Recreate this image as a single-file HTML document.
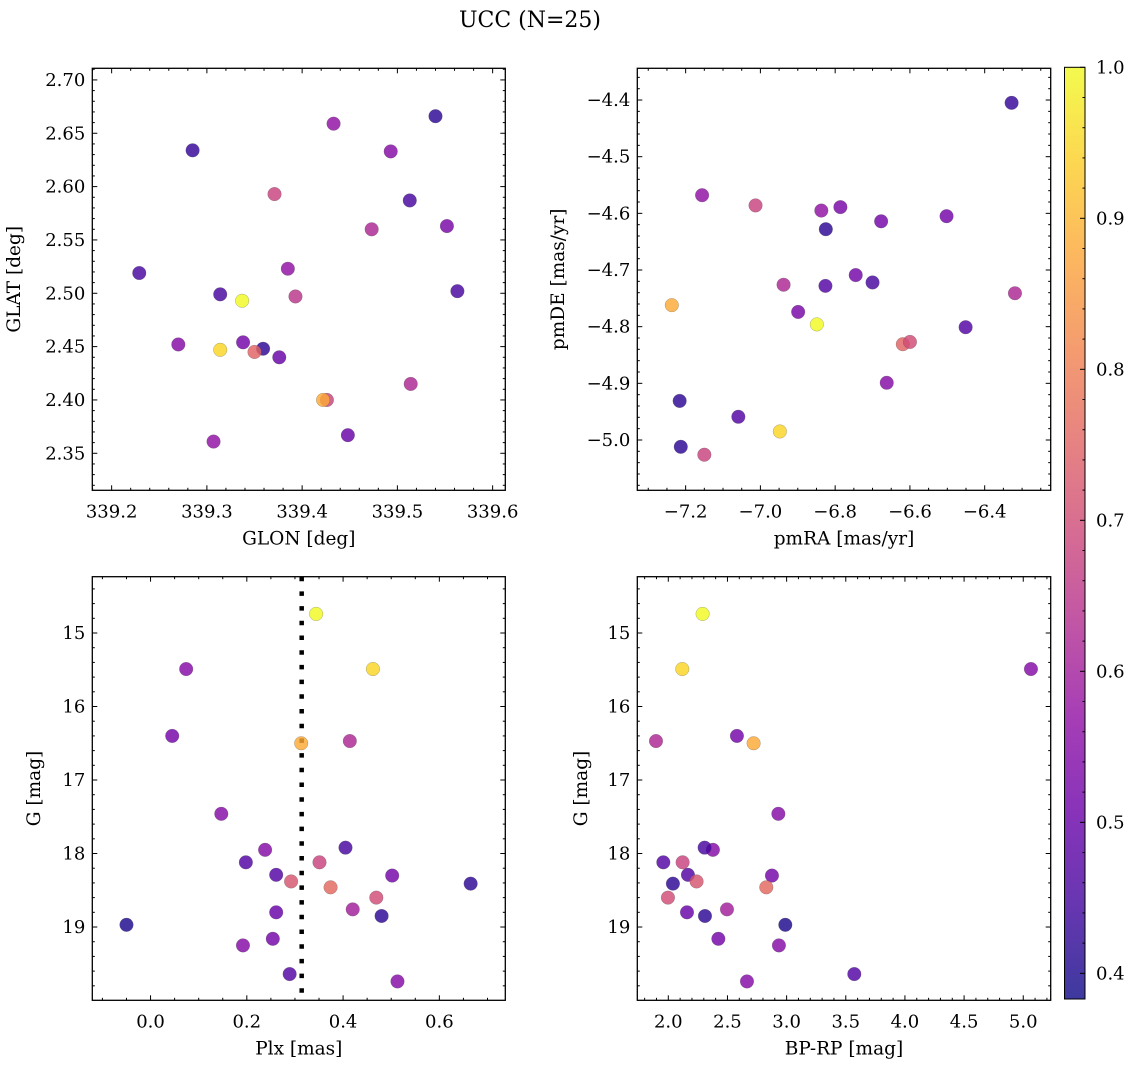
<!DOCTYPE html>
<html><head><meta charset="utf-8"><title>UCC (N=25)</title>
<style>
html,body{margin:0;padding:0;background:#fff;}
svg{display:block;font-family:"DejaVu Serif","Liberation Serif",serif;}
</style></head>
<body>
<svg id="fig" xmlns="http://www.w3.org/2000/svg" width="1136" height="1067" viewBox="0 0 1136 1067">
<defs>
<linearGradient id="cbgrad" x1="0" y1="1" x2="0" y2="0">
<stop offset="0" stop-color="#0d0887"/><stop offset="0.1" stop-color="#41049d"/><stop offset="0.2" stop-color="#6a00a8"/><stop offset="0.3" stop-color="#8f0da4"/><stop offset="0.4" stop-color="#b12a90"/><stop offset="0.5" stop-color="#cc4778"/><stop offset="0.6" stop-color="#e16462"/><stop offset="0.7" stop-color="#f2844b"/><stop offset="0.8" stop-color="#fca636"/><stop offset="0.9" stop-color="#fcce25"/><stop offset="1" stop-color="#f0f921"/>
</linearGradient>
</defs>
<text x="530" y="27" font-size="22" text-anchor="middle">UCC (N=25)</text>
</svg>
<script>
// ---- Panel 1: galactic coordinates ----
const glon = [339.285,339.229,339.433,339.540,339.493,339.371,339.513,339.473,339.552,339.385,339.314,339.337,339.393,339.563,339.270,339.338,339.359,339.350,339.314,339.376,339.514,339.426,339.422,339.448,339.307];
const glat = [2.634,2.519,2.659,2.666,2.633,2.593,2.587,2.560,2.563,2.523,2.499,2.493,2.497,2.502,2.452,2.454,2.448,2.445,2.447,2.440,2.415,2.400,2.400,2.367,2.361];
const probPos = [0.43,0.45,0.57,0.42,0.55,0.68,0.45,0.62,0.53,0.57,0.45,1.0,0.65,0.45,0.55,0.52,0.42,0.75,0.95,0.50,0.62,0.68,0.88,0.50,0.57];
// ---- Panel 2: proper motions ----
const pmra = [-6.328,-7.156,-7.013,-6.837,-6.786,-6.825,-6.677,-6.502,-6.745,-6.700,-6.826,-6.938,-6.899,-7.237,-6.849,-6.451,-6.319,-6.619,-6.600,-6.662,-7.216,-7.059,-6.948,-7.213,-7.150];
const pmde = [-4.405,-4.568,-4.586,-4.595,-4.589,-4.628,-4.614,-4.605,-4.709,-4.722,-4.728,-4.726,-4.774,-4.762,-4.796,-4.801,-4.741,-4.831,-4.827,-4.899,-4.931,-4.959,-4.985,-5.012,-5.026];
const probPm = [0.43,0.57,0.68,0.57,0.53,0.42,0.52,0.52,0.52,0.45,0.47,0.62,0.53,0.88,1.0,0.47,0.62,0.75,0.70,0.55,0.42,0.47,0.95,0.42,0.68];
// ---- Panels 3 & 4: photometry / parallax ----
const gmag = [14.74,15.49,15.49,16.40,16.50,16.47,17.46,17.95,17.92,18.12,18.12,18.29,18.38,18.30,18.41,18.46,18.60,18.76,18.80,18.85,18.97,19.16,19.25,19.64,19.74];
const plx = [0.344,0.074,0.462,0.045,0.313,0.414,0.147,0.238,0.405,0.198,0.351,0.261,0.292,0.502,0.665,0.374,0.469,0.420,0.261,0.480,-0.050,0.254,0.192,0.289,0.513];
const bprp = [2.290,5.065,2.118,2.580,2.721,1.896,2.930,2.377,2.307,1.958,2.121,2.166,2.239,2.876,2.039,2.828,1.997,2.496,2.158,2.310,2.989,2.423,2.935,3.572,2.665];
const probPhot = [1.0,0.55,0.95,0.52,0.88,0.62,0.55,0.55,0.45,0.47,0.68,0.47,0.72,0.52,0.42,0.76,0.70,0.60,0.50,0.42,0.40,0.52,0.55,0.47,0.55];
const plxMedian = [0.314];
const cbTicks = [0.4,0.5,0.6,0.7,0.8,0.9,1.0];
const cbMin = 0.383, cbMax = 1.0;

const NS = "http://www.w3.org/2000/svg";
const svg = document.getElementById('fig');
const plasma = [[13,8,135],[65,4,157],[106,0,168],[143,13,164],[177,42,144],[204,71,120],[225,100,98],[242,132,75],[252,166,54],[252,206,37],[240,249,33]];
function cmap(v){
  let t = (v-cbMin)/(cbMax-cbMin); t = Math.max(0,Math.min(1,t))*10;
  const i = Math.min(9,Math.floor(t)), f = t-i;
  const a = plasma[i], b = plasma[i+1];
  return 'rgb('+a.map((c,k)=>Math.round(c+(b[k]-c)*f)).join(',')+')';
}
function el(tag, attrs, parent){
  const e = document.createElementNS(NS, tag);
  for (const k in attrs) e.setAttribute(k, attrs[k]);
  (parent||svg).appendChild(e);
  return e;
}
function fmt(v, d){ return v.toFixed(d).replace('-', '\u2212'); }

function panel(o){
  const g = el('g', {});
  
  
  const L=o.L,R=o.R,T=o.T,B=o.B;
  const sx = v => L + (v-o.xmin)/(o.xmax-o.xmin)*(R-L);
  const sy = o.invert ? (v => T + (v-o.ymin)/(o.ymax-o.ymin)*(B-T)) : (v => B - (v-o.ymin)/(o.ymax-o.ymin)*(B-T));
  const tg = el('g', {stroke:'#000','stroke-width':1}, g);
  for (let v=Math.ceil(o.xmin/o.xminor-1e-6)*o.xminor; v<=o.xmax+1e-9; v+=o.xminor){
    const x = sx(v); const maj = Math.abs(v/o.xmajor - Math.round(v/o.xmajor))<1e-4; const len = maj?5:2.5;
    el('line',{x1:x,x2:x,y1:B,y2:B-len},tg); el('line',{x1:x,x2:x,y1:T,y2:T+len},tg);
  }
  for (let v=Math.ceil(o.ymin/o.yminor-1e-6)*o.yminor; v<=o.ymax+1e-9; v+=o.yminor){
    const y = sy(v); const maj = Math.abs(v/o.ymajor - Math.round(v/o.ymajor))<1e-4; const len = maj?5:2.5;
    el('line',{y1:y,y2:y,x1:L,x2:L+len},tg); el('line',{y1:y,y2:y,x1:R,x2:R-len},tg);
  }
  o.xticks.forEach(v=>{
    const t = el('text',{x:sx(v),y:B+27,'font-size':18,'text-anchor':'middle'},g);
    
    
    t.textContent = fmt(v,o.xdec);
  });
  o.yticks.forEach(v=>{
    const t = el('text',{x:L-7,y:sy(v)+6,'font-size':18,'text-anchor':'end'},g);
    
    
    t.textContent = fmt(v,o.ydec);
  });
  const xl = el('text',{x:(L+R)/2,y:B+54,'font-size':18.5,'text-anchor':'middle'},g);
  
  
  xl.textContent = o.xlabel;
  const yl = el('text',{x:0,y:0,'font-size':18.5,'text-anchor':'middle',transform:'translate('+o.ylx+','+(T+B)/2+') rotate(-90)'},g);
  
  
  yl.textContent = o.ylabel;
  if (o.vline){
    const vl = el('line',{x1:sx(o.vline[0]),x2:sx(o.vline[0]),y1:T,y2:B,stroke:'#000','stroke-width':4.5,'stroke-dasharray':'4.5 10.2'},g);
    
    
  }
  const pg = el('g',{},g);
  o.xs.forEach((xv,i)=>{
    const c = el('circle',{cx:sx(xv),cy:sy(o.ys[i]),r:6.8,fill:cmap(o.p[i]),'fill-opacity':0.82,stroke:'#555','stroke-width':0.4,'stroke-opacity':0.6},pg);
    
    
  });
  const fr = el('rect',{x:L,y:T,width:R-L,height:B-T,fill:'none',stroke:'#000','stroke-width':1.3},g);
  
  
}

panel({name:'glon-glat-panel',L:92.3,R:505.3,T:68.3,B:490.3,xmin:339.1797,xmax:339.6133,ymin:2.3153,ymax:2.7109,
  xmajor:0.1,xminor:0.02,ymajor:0.05,yminor:0.01,xticks:[339.2,339.3,339.4,339.5,339.6],yticks:[2.35,2.40,2.45,2.50,2.55,2.60,2.65,2.70],
  xdec:1,ydec:2,xlabel:'GLON [deg]',ylabel:'GLAT [deg]',ylx:20,xs:glon,ys:glat,p:probPos});
panel({name:'proper-motion-panel',L:637.3,R:1050.7,T:68.3,B:490.3,xmin:-7.3293,xmax:-6.2234,ymin:-5.0888,ymax:-4.344,
  xmajor:0.2,xminor:0.05,ymajor:0.1,yminor:0.02,xticks:[-7.2,-7.0,-6.8,-6.6,-6.4],yticks:[-5.0,-4.9,-4.8,-4.7,-4.6,-4.5,-4.4],
  xdec:1,ydec:1,xlabel:'pmRA [mas/yr]',ylabel:'pmDE [mas/yr]',ylx:564,xs:pmra,ys:pmde,p:probPm});
panel({name:'parallax-g-panel',L:92.3,R:505.3,T:576.7,B:1000.3,xmin:-0.121,xmax:0.737,ymin:14.234,ymax:19.997,invert:true,
  xmajor:0.2,xminor:0.05,ymajor:1,yminor:0.2,xticks:[0.0,0.2,0.4,0.6],yticks:[15,16,17,18,19],
  xdec:1,ydec:0,xlabel:'Plx [mas]',ylabel:'G [mag]',ylx:40,xs:plx,ys:gmag,p:probPhot,vline:plxMedian});
panel({name:'cmd-panel',L:637.3,R:1050.7,T:576.7,B:1000.3,xmin:1.738,xmax:5.232,ymin:14.234,ymax:19.997,invert:true,
  xmajor:0.5,xminor:0.1,ymajor:1,yminor:0.2,xticks:[2.0,2.5,3.0,3.5,4.0,4.5,5.0],yticks:[15,16,17,18,19],
  xdec:1,ydec:0,xlabel:'BP-RP [mag]',ylabel:'G [mag]',ylx:587,xs:bprp,ys:gmag,p:probPhot});

// colorbar
(function(){
  const L=1064.5,R=1085,T=67.3,B=999;
  const g = el('g',{});
  
  
  const r = el('rect',{x:L,y:T,width:R-L,height:B-T,fill:'url(#cbgrad)','fill-opacity':0.8,stroke:'#000','stroke-width':1},g);
  
  
  const sy = v => B - (v-cbMin)/(cbMax-cbMin)*(B-T);
  for (let v=0.4; v<=1.0001; v+=0.02){
    const maj = Math.abs(v*10-Math.round(v*10))<1e-4;
    el('line',{x1:R,x2:R-(maj?5:2.5),y1:sy(v),y2:sy(v),stroke:'#000','stroke-width':1},g);
  }
  cbTicks.forEach(v=>{
    const t = el('text',{x:R+11,y:sy(v)+6,'font-size':18},g);
    
    
    t.textContent = v.toFixed(1);
  });
})();
</script>
</body></html>
